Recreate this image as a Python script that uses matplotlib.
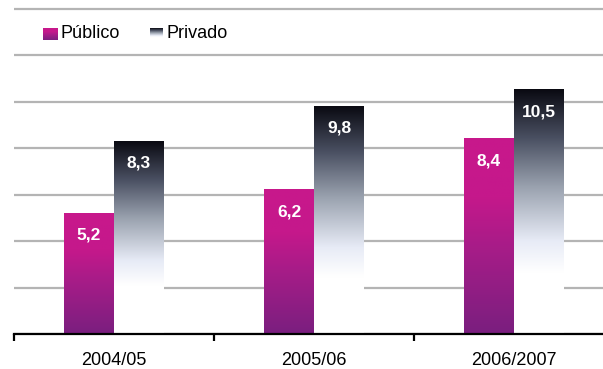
import numpy as np
import matplotlib
matplotlib.use('Agg')
import matplotlib.pyplot as plt
from matplotlib.colors import LinearSegmentedColormap

plt.rcParams['font.family'] = ['Liberation Sans', 'DejaVu Sans']

categories = ['2004/05', '2005/06', '2006/2007']
series_names = ['Público', 'Privado']
publico = [5.2, 6.2, 8.4]
privado = [8.3, 9.8, 10.5]
y_grid = [0, 2, 4, 6, 8, 10, 12, 14]

pub_cmap = LinearSegmentedColormap.from_list(
    'pub', [(0, '#7A1F7F'), (0.45, '#A81C88'), (0.7, '#C5188B'), (1, '#C8188C')])
priv_cmap = LinearSegmentedColormap.from_list(
    'priv', [(0, '#FFFFFF'), (0.25, '#FFFFFF'), (0.38, '#E7EBF6'),
             (0.6, '#9AA2AF'), (0.8, '#4A5062'), (1, '#0A0A12')])

W, H = 603, 369
fig = plt.figure(figsize=(W / 100, H / 100), dpi=100)
top_px = 8.5 - 0.2 * 23.25
ax = fig.add_axes([14 / W, (H - 334) / H, 600 / W, (334 - top_px) / H])

x = np.arange(len(categories))
bw = 0.25
grad = np.linspace(0, 1, 256).reshape(-1, 1)

def grad_bars(xpos, vals, cmap):
    bars = ax.bar(xpos, vals, bw, facecolor='none', edgecolor='none', zorder=3)
    for r in bars:
        x0, y0 = r.get_x(), r.get_y()
        im = ax.imshow(grad, cmap=cmap, origin='lower', aspect='auto',
                       extent=[x0, x0 + r.get_width(), y0, y0 + r.get_height()],
                       zorder=2, interpolation='bilinear')
    return bars

grad_bars(x - bw / 2, publico, pub_cmap)
grad_bars(x + bw / 2, privado, priv_cmap)

for xs, vals in ((x - bw / 2, publico), (x + bw / 2, privado)):
    for xi, v in zip(xs, vals):
        ax.annotate(f'{v:.1f}'.replace('.', ','), (xi, v), xytext=(0, -16),
                    textcoords='offset points', ha='center', va='center',
                    color='white', fontweight='bold', fontsize=12.5, zorder=4)

ax.set_xlim(-0.5, len(categories) - 0.5)
ax.set_ylim(0, 14.2)
ax.set_yticks(y_grid)
ax.yaxis.grid(True, color='#B4B4B4', linewidth=1.6)
ax.set_axisbelow(True)
ax.tick_params(axis='y', length=0, labelleft=False)
for s in ('left', 'right', 'top'):
    ax.spines[s].set_visible(False)
ax.spines['bottom'].set_linewidth(1.6)
ax.spines['bottom'].set_zorder(5)

ax.set_xticks(np.arange(len(categories) + 1) - 0.5)
ax.set_xticklabels([])
ax.set_xticks(x, minor=True)
ax.set_xticklabels(categories, minor=True, fontsize=13)
ax.tick_params(axis='x', which='major', direction='out', length=5, width=1.6)
ax.tick_params(axis='x', which='minor', length=0, pad=13)

# legend
def legend_marker(px0, px1, py0, py1, cmap):
    lax = fig.add_axes([px0 / W, (H - py1) / H, (px1 - px0) / W, (py1 - py0) / H])
    lax.imshow(grad, cmap=cmap, origin='lower', aspect='auto', extent=[0, 1, 0, 1])
    lax.set_axis_off()

legend_marker(43, 58, 28, 40, pub_cmap)
legend_marker(150, 163, 28, 40, priv_cmap)
fig.text(60 / W, 1 - 34 / H, series_names[0], fontsize=13, va='center', ha='left')
fig.text(167 / W, 1 - 34 / H, series_names[1], fontsize=13, va='center', ha='left')

fig.savefig('out.png', dpi=100)
